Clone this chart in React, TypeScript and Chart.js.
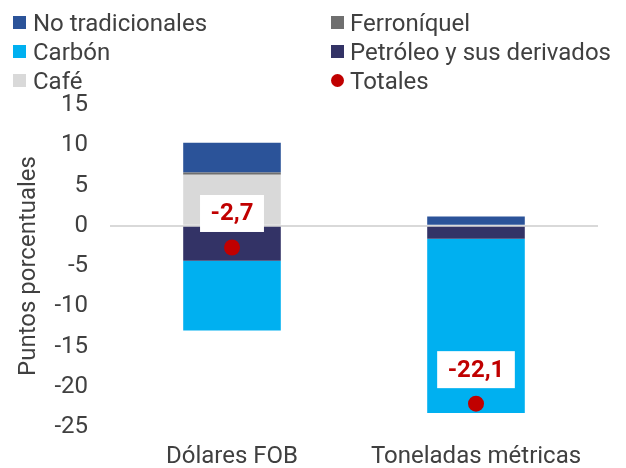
import React, { useEffect, useRef } from 'react';
import { Chart, registerables } from 'chart.js';

Chart.register(...registerables);

const categories = ['Dólares FOB', 'Toneladas métricas'];
const noTradicionales = [3.7, 1.15];
const ferroniquel = [0.25, 0];
const cafe = [6.35, 0];
const petroleo = [-4.35, -1.6];
const carbon = [-8.65, -21.65];
const totales = [-2.7, -22.1];

const yMin = -25;
const yMax = 15;
const yStep = 5;

const COLORS = {
  noTrad: '#2B5399',
  ferro: '#6F6F6F',
  carbon: '#00B0F0',
  petroleo: '#333366',
  cafe: '#D9D9D9',
  totales: '#C00000',
};

const TEXT = '#404040';
const FONT = 'Roboto, "Noto Sans", sans-serif';

const legendItems = [
  { label: 'No tradicionales', color: COLORS.noTrad, shape: 'square', col: 0, row: 0 },
  { label: 'Ferroníquel', color: COLORS.ferro, shape: 'square', col: 1, row: 0 },
  { label: 'Carbón', color: COLORS.carbon, shape: 'square', col: 0, row: 1 },
  { label: 'Petróleo y sus derivados', color: COLORS.petroleo, shape: 'square', col: 1, row: 1 },
  { label: 'Café', color: COLORS.cafe, shape: 'square', col: 0, row: 2 },
  { label: 'Totales', color: COLORS.totales, shape: 'circle', col: 1, row: 2 },
];

const fmt = (v: number) => v.toFixed(1).replace('.', ',');

const totalLabelPlugin = {
  id: 'totalLabels',
  afterDatasetsDraw(chart: any) {
    const ctx = chart.ctx;
    chart.data.datasets.forEach((ds: any, i: number) => {
      if (ds.label !== 'Totales') return;
      const meta = chart.getDatasetMeta(i);
      meta.data.forEach((pt: any, j: number) => {
        const text = fmt(ds.data[j]);
        ctx.save();
        ctx.font = `bold 24px ${FONT}`;
        const w = ctx.measureText(text).width + 21;
        const h = 37;
        const cx = pt.x;
        const cy = pt.y - 34;
        ctx.fillStyle = '#FFFFFF';
        ctx.fillRect(cx - w / 2, cy - h / 2, w, h);
        ctx.fillStyle = COLORS.totales;
        ctx.textAlign = 'center';
        ctx.textBaseline = 'middle';
        ctx.fillText(text, cx, cy + 1);
        ctx.restore();
      });
    });
  },
};

export default function App() {
  const ref = useRef<HTMLCanvasElement>(null);

  useEffect(() => {
    if (!ref.current) return;
    Chart.defaults.font.family = FONT;
    const chart = new Chart(ref.current, {
      type: 'bar',
      data: {
        labels: categories,
        datasets: [
          {
            type: 'line',
            label: 'Totales',
            data: totales,
            showLine: false,
            pointRadius: 8,
            pointHoverRadius: 8,
            pointBackgroundColor: COLORS.totales,
            pointBorderColor: COLORS.totales,
            pointBorderWidth: 0,
            backgroundColor: COLORS.totales,
            borderColor: COLORS.totales,
            stack: 'totals',
            order: -1,
          } as any,
          { label: 'Café', data: cafe, backgroundColor: COLORS.cafe, stack: 's' },
          { label: 'Ferroníquel', data: ferroniquel, backgroundColor: COLORS.ferro, stack: 's' },
          { label: 'No tradicionales', data: noTradicionales, backgroundColor: COLORS.noTrad, stack: 's' },
          { label: 'Petróleo y sus derivados', data: petroleo, backgroundColor: COLORS.petroleo, stack: 's' },
          { label: 'Carbón', data: carbon, backgroundColor: COLORS.carbon, stack: 's' },
        ],
      },
      options: {
        responsive: false,
        animation: false,
        maintainAspectRatio: false,
        layout: { padding: { top: 105, right: 28, bottom: 0, left: 0 } },
        datasets: {
          bar: { barPercentage: 0.4, categoryPercentage: 1 },
        },
        plugins: {
          legend: { display: false },
          tooltip: { enabled: false },
        },
        scales: {
          x: {
            stacked: true,
            grid: { display: false, drawTicks: false },
            border: { display: false },
            ticks: { color: TEXT, font: { size: 24, family: FONT }, padding: 16 },
            afterFit: (s: any) => {
              s.height = 41;
            },
          },
          y: {
            stacked: true,
            min: yMin,
            max: yMax,
            border: { display: false },
            grid: {
              drawTicks: false,
              color: (c: any) => (c.tick && c.tick.value === 0 ? '#D9D9D9' : 'rgba(0,0,0,0)'),
              lineWidth: 2,
            },
            ticks: {
              stepSize: yStep,
              color: TEXT,
              font: { size: 24, family: FONT },
              padding: 22,
              callback: (v: any) => String(v),
            },
            title: {
              display: true,
              text: 'Puntos porcentuales',
              color: TEXT,
              font: { size: 24, family: FONT },
              padding: { top: 15, bottom: 0 },
            },
            afterFit: (s: any) => {
              s.width = 110;
            },
          },
        },
      },
      plugins: [totalLabelPlugin],
    });
    return () => chart.destroy();
  }, []);

  const rowY = [22.5, 51.5, 80.5];

  return (
    <div style={{ position: 'absolute', left: 0, top: 0, width: 626, height: 468, background: '#fff' }}>
      <canvas ref={ref} width={626} height={468} style={{ display: 'block' }} />
      {legendItems.map((it) => {
        const sqLeft = it.col === 0 ? 13 : 331;
        const txtLeft = it.col === 0 ? 33 : 350;
        const cy = rowY[it.row];
        const size = 13;
        return (
          <React.Fragment key={it.label}>
            <div
              style={{
                position: 'absolute',
                left: sqLeft,
                top: cy - size / 2,
                width: size,
                height: size,
                borderRadius: it.shape === 'circle' ? '50%' : 0,
                background: it.color,
              }}
            />
            <div
              style={{
                position: 'absolute',
                left: txtLeft,
                top: cy - 15,
                height: 30,
                lineHeight: '30px',
                fontFamily: FONT,
                fontSize: 24,
                color: TEXT,
                whiteSpace: 'nowrap',
              }}
            >
              {it.label}
            </div>
          </React.Fragment>
        );
      })}
    </div>
  );
}
